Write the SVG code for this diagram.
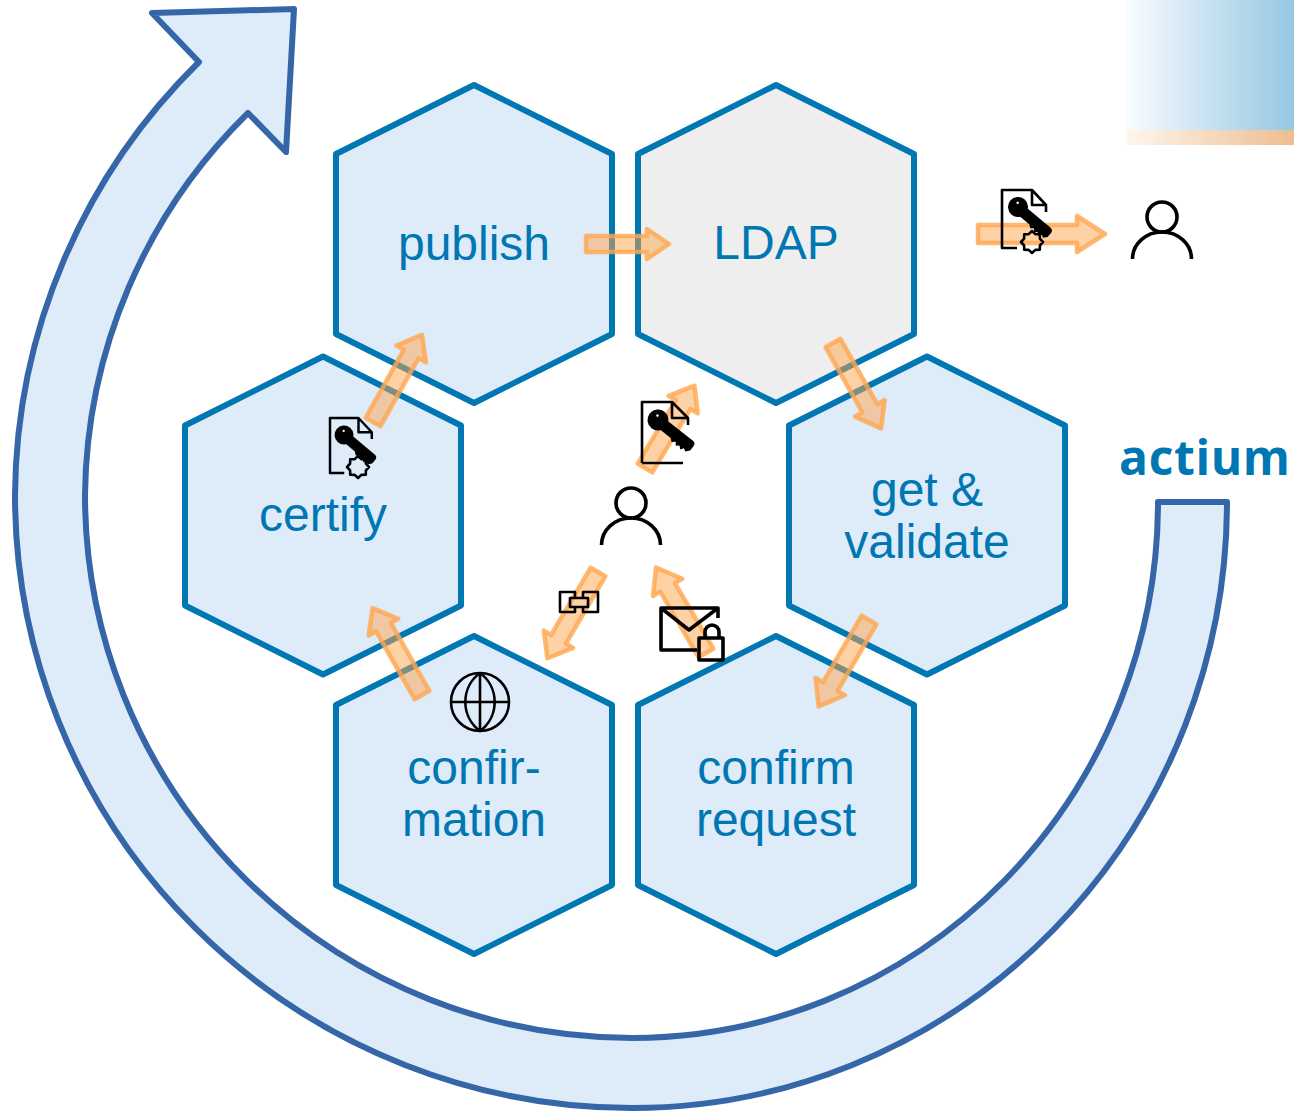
<svg xmlns="http://www.w3.org/2000/svg" width="1294" height="1112" viewBox="0 0 1294 1112">
<style>
.hex{fill:#deebf9;stroke:#0077b3;stroke-width:6;stroke-linejoin:round}
.lbl{font-family:"Liberation Sans",Arial,sans-serif;font-size:48px;fill:#0077b3;text-anchor:middle}
.flow{fill:#ffa64d;fill-opacity:.5;stroke:#ffa64d;stroke-opacity:.8;stroke-width:4.500;stroke-linejoin:round}
.ic{fill:none;stroke:#000;stroke-width:3.600;stroke-linejoin:round}
.thin{fill:none;stroke:#000;stroke-width:2.600;stroke-linejoin:round}
</style>
<defs>
<linearGradient id="gb" x1="0" x2="1" y1="0" y2="0"><stop offset="0" stop-color="#f9fcfe"/><stop offset="1" stop-color="#96c7e3"/></linearGradient>
<linearGradient id="go" x1="0" x2="1" y1="0" y2="0"><stop offset="0" stop-color="#fef6ee"/><stop offset="1" stop-color="#edbd90"/></linearGradient>
<polygon id="hx" points="0,-159 138,-90 138,90 0,159 -138,90 -138,-90"/>
<g id="person"><circle cx="0" cy="0" r="15" class="ic"/><path d="M-29.500 42A29.500 27 0 0 1 29.500 42" class="ic"/></g>
<g id="key"><circle r="10" fill="#000"/><circle cx="-3" cy="-3" r="1.200" fill="#fff"/><path d="M4-5H38Q42-5 42-1V4L39 7.500L36 6L34 9L31 6.500L28.500 9L26 6L23 8.500L20 6H4Z" fill="#000"/></g>
<polygon id="gear" class="thin" points="11,0 7.900,3.300 7.800,7.800 3.300,7.900 0,11 -3.300,7.900 -7.800,7.800 -7.900,3.300 -11,0 -7.900,-3.300 -7.800,-7.800 -3.300,-7.900 0,-11 3.300,-7.900 7.800,-7.800 7.900,-3.300"/>
<path id="page" class="thin" d="M15 58H0V0H30L44 15V22M30 0V15H44"/>
</defs>

<g id="banner">
<rect x="1126" y="0" width="168" height="130" fill="url(#gb)"/>
<rect x="1126" y="130" width="168" height="15" fill="url(#go)"/>
</g>

<g id="cycle-arrow"><path d="M1227 502A595 606 0 0 1 632 1108A617 613 0 0 1 15 495A613 613 0 0 1 199 62L152 13L294 9L286 152L248 113A543 543 0 0 0 85 495A547 543 0 0 0 632 1038A526 536 0 0 0 1158 502Z" fill="#deebf9" stroke="#3566a8" stroke-width="6" stroke-linejoin="round"/></g>

<g id="node-publish"><use href="#hx" x="474" y="244" class="hex"/><text x="474" y="260" class="lbl">publish</text></g>
<g id="node-ldap"><use href="#hx" x="776" y="244" class="hex" style="fill:#eeeeee"/><text x="776" y="259" class="lbl">LDAP</text></g>
<g id="node-certify"><use href="#hx" x="323" y="515.500" class="hex"/><text x="323" y="531" class="lbl">certify</text></g>
<g id="node-validate"><use href="#hx" x="927" y="515.500" class="hex"/><text x="927" y="505.500" class="lbl">get &amp;</text><text x="927" y="557.500" class="lbl">validate</text></g>
<g id="node-confirmation"><use href="#hx" x="474" y="795" class="hex"/><text x="474" y="784" class="lbl">confir-</text><text x="474" y="836" class="lbl">mation</text></g>
<g id="node-request"><use href="#hx" x="776" y="795" class="hex"/><text x="776" y="784" class="lbl">confirm</text><text x="776" y="836" class="lbl">request</text></g>

<g id="connectors">
<polygon class="flow" points="586,236 647,236 647,229 669,244 647,259 647,252 586,252"/>
<polygon class="flow" points="978,225 1077,225 1077,216 1105,234 1077,252 1077,243 978,243"/>
<polygon class="flow" points="0,-8.500 0,8.500 75,8.500 75,17 98,0 75,-17 75,-8.500" transform="translate(833,343) rotate(60.600)"/>
<polygon class="flow" points="0,-8.500 0,8.500 77,8.500 77,17 100,0 77,-17 77,-8.500" transform="translate(869,620) rotate(120.200)"/>
<polygon class="flow" points="0,-8.500 0,8.500 76,8.500 76,17 99,0 76,-17 76,-8.500" transform="translate(706,653) rotate(239.700)"/>
<polygon class="flow" points="0,-8.500 0,8.500 78,8.500 78,17 100,0 78,-17 78,-8.500" transform="translate(598,572) rotate(120.400)"/>
<polygon class="flow" points="0,-8.500 0,8.500 74,8.500 74,17 96,0 74,-17 74,-8.500" transform="translate(645,468) rotate(-59)"/>
<polygon class="flow" points="0,-8.500 0,8.500 78,8.500 78,17 100,0 78,-17 78,-8.500" transform="translate(373,422) rotate(-60.700)"/>
<polygon class="flow" points="0,-8.500 0,8.500 78,8.500 78,17 100,0 78,-17 78,-8.500" transform="translate(422,695) rotate(240.400)"/>
</g>

<g id="icon-cert-out"><use href="#page" x="1002" y="190"/><use href="#key" transform="translate(1018,207) rotate(40)"/><use href="#gear" x="1032" y="242"/></g>
<g id="icon-cert"><use href="#page" transform="translate(330,418) scale(.95)"/><use href="#key" transform="translate(344,435) rotate(40) scale(.95)"/><use href="#gear" x="358" y="467"/></g>
<g id="icon-key-doc"><path class="thin" d="M642 463V402H672L688 418V425M672 402V418H688M642 463H683"/><use href="#key" transform="translate(658,420) rotate(38) scale(1.050)"/></g>
<g id="user-top"><use href="#person" x="1162" y="217"/></g>
<g id="user-center"><use href="#person" x="631" y="503"/></g>
<g id="icon-link" class="thin"><path d="M575 598V592H560V612H575V607M583 598V592H598V612H583V607"/><rect x="570" y="598" width="18" height="9"/></g>
<g id="icon-mail" class="ic"><path d="M697 650H661V608H718V618M661 608L689 630L718 608"/><rect x="699" y="638" width="24" height="22"/><path d="M705 638V632A7 7 0 0 1 719 632V638"/></g>
<g id="icon-globe" class="thin"><circle cx="480" cy="702" r="29"/><path d="M480 673V731M451 702H509M480 673A36 36 0 0 0 480 731A36 36 0 0 0 480 673"/></g>

<text id="brand" x="1119" y="475" font-family="'Open Sans',sans-serif" font-weight="700" font-size="48" fill="#0077b3" textLength="171">actium</text>
</svg>
